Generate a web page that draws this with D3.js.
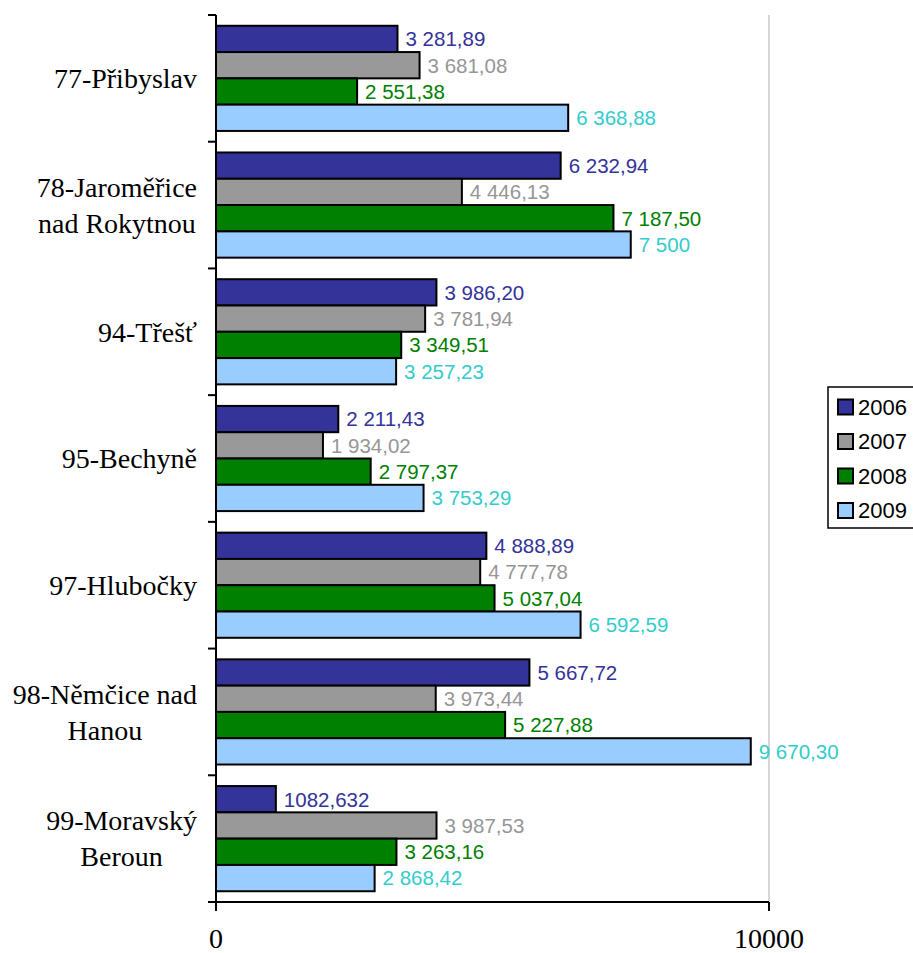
<!DOCTYPE html>
<html>
<head>
<meta charset="utf-8">
<script src="https://cdn.jsdelivr.net/npm/d3@7"></script>
<style>
  html, body { margin: 0; padding: 0; background: #fff; }
  svg { display: block; }
</style>
</head>
<body>
<svg id="chart" width="913" height="953"></svg>
<script>
// Categories (line breaks mark where the axis label wraps)
const categories = [
  "77-Přibyslav",
  "78-Jaroměřice\nnad Rokytnou",
  "94-Třešť",
  "95-Bechyně",
  "97-Hlubočky",
  "98-Němčice nad\nHanou",
  "99-Moravský\nBeroun"
];
const seriesNames = ["2006", "2007", "2008", "2009"];
const values2006 = [3281.89, 6232.94, 3986.20, 2211.43, 4888.89, 5667.72, 1082.632];
const values2007 = [3681.08, 4446.13, 3781.94, 1934.02, 4777.78, 3973.44, 3987.53];
const values2008 = [2551.38, 7187.50, 3349.51, 2797.37, 5037.04, 5227.88, 3263.16];
const values2009 = [6368.88, 7500, 3257.23, 3753.29, 6592.59, 9670.30, 2868.42];
const xTicks = [0, 10000];

const barColors = ["#333399", "#999999", "#008000", "#99CCFF"];
const labelColors = ["#333399", "#969696", "#008000", "#33CCCC"];

const seriesValues = [values2006, values2007, values2008, values2009];
const rows = categories.map((c, i) => ({
  category: c,
  values: seriesNames.map((s, j) => ({ series: s, idx: j, value: seriesValues[j][i] }))
}));

// Czech number style: space for thousands, comma for decimals
const cz = d3.formatLocale({ decimal: ",", thousands: " ", grouping: [3], currency: ["", ""] });
function fmt(v) {
  if (Number.isInteger(v)) return cz.format(",.0f")(v);
  const dec = (String(v).split(".")[1] || "").length;
  if (dec > 2) return String(v).replace(".", ",");
  return cz.format(",.2f")(v);
}

const svg = d3.select("#chart");
const plotLeft = 216, plotRight = 769, plotTop = 15, plotBottom = 902;

const x = d3.scaleLinear().domain([0, 10000]).range([plotLeft, plotRight]);
const y = d3.scaleBand().domain(categories).range([plotTop, plotBottom]).padding(0);
const bw = y.bandwidth();
const groupPad = bw * 0.085;
const ySub = d3.scaleBand().domain(seriesNames).range([groupPad, bw - groupPad]).padding(0);

// Vertical gridline at the max tick
svg.append("line")
  .attr("x1", x(10000)).attr("x2", x(10000))
  .attr("y1", plotTop).attr("y2", plotBottom)
  .attr("stroke", "#c8c8c8").attr("stroke-width", 1.5);

// Bars
const groups = svg.selectAll("g.cat").data(rows).join("g")
  .attr("class", "cat")
  .attr("transform", d => `translate(0,${y(d.category)})`);

groups.selectAll("rect").data(d => d.values).join("rect")
  .attr("x", x(0))
  .attr("y", d => ySub(d.series))
  .attr("width", d => x(d.value) - x(0))
  .attr("height", ySub.bandwidth())
  .attr("fill", d => barColors[d.idx])
  .attr("stroke", "#000").attr("stroke-width", 2);

// Value labels
groups.selectAll("text.val").data(d => d.values).join("text")
  .attr("class", "val")
  .attr("x", d => x(d.value) + 8)
  .attr("y", d => ySub(d.series) + ySub.bandwidth() / 2)
  .attr("dy", "0.36em")
  .attr("font-family", "'Liberation Sans', Arial, sans-serif")
  .attr("font-size", 20.5)
  .attr("fill", d => labelColors[d.idx])
  .text(d => fmt(d.value));

// Category axis (left)
const yAxis = svg.append("g");
yAxis.append("line")
  .attr("x1", plotLeft).attr("x2", plotLeft).attr("y1", plotTop).attr("y2", plotBottom)
  .attr("stroke", "#000").attr("stroke-width", 2);
const yTickPos = categories.map(c => y(c)).concat([plotBottom]);
yAxis.selectAll("line.tick").data(yTickPos).join("line")
  .attr("class", "tick")
  .attr("x1", plotLeft - 8).attr("x2", plotLeft)
  .attr("y1", d => d).attr("y2", d => d)
  .attr("stroke", "#000").attr("stroke-width", 2);

// Category labels: block right-aligned, lines centred within the block
const labelRight = 197, lineH = 36;
categories.forEach(c => {
  const lines = c.split("\n");
  const g = svg.append("g");
  const texts = lines.map((ln, k) => g.append("text")
    .attr("font-family", "'Liberation Serif', 'Times New Roman', serif")
    .attr("font-size", 28)
    .attr("fill", "#000")
    .attr("text-anchor", "middle")
    .attr("dy", "0.35em")
    .attr("y", y(c) + bw / 2 + (k - (lines.length - 1) / 2) * lineH)
    .text(ln));
  const maxW = d3.max(texts, t => t.node().getComputedTextLength());
  texts.forEach(t => t.attr("x", labelRight - maxW / 2));
});

// Value axis (bottom)
const xAxis = svg.append("g");
xAxis.append("line")
  .attr("x1", plotLeft).attr("x2", plotRight).attr("y1", plotBottom).attr("y2", plotBottom)
  .attr("stroke", "#000").attr("stroke-width", 2);
xAxis.selectAll("line.tick").data(xTicks).join("line")
  .attr("class", "tick")
  .attr("x1", d => x(d)).attr("x2", d => x(d))
  .attr("y1", plotBottom).attr("y2", plotBottom + 9)
  .attr("stroke", "#000").attr("stroke-width", 2);
xAxis.selectAll("text").data(xTicks).join("text")
  .attr("x", d => x(d))
  .attr("y", 948)
  .attr("text-anchor", "middle")
  .attr("font-family", "'Liberation Serif', 'Times New Roman', serif")
  .attr("font-size", 28)
  .text(d => d3.format("d")(d));

// Legend
const legend = svg.append("g");
legend.append("rect")
  .attr("x", 828).attr("y", 387).attr("width", 110).attr("height", 141)
  .attr("fill", "#fff").attr("stroke", "#000").attr("stroke-width", 1.5);
const items = legend.selectAll("g.item").data(seriesNames).join("g")
  .attr("class", "item")
  .attr("transform", (d, i) => `translate(0,${407 + i * 34.5})`);
items.append("rect")
  .attr("x", 838).attr("y", -7.5).attr("width", 15).attr("height", 15)
  .attr("fill", (d, i) => barColors[i])
  .attr("stroke", "#000").attr("stroke-width", 2);
items.append("text")
  .attr("x", 858).attr("y", 0).attr("dy", "0.36em")
  .attr("font-family", "'Liberation Sans', Arial, sans-serif")
  .attr("font-size", 22)
  .attr("fill", "#000")
  .text(d => d);
</script>
</body>
</html>
